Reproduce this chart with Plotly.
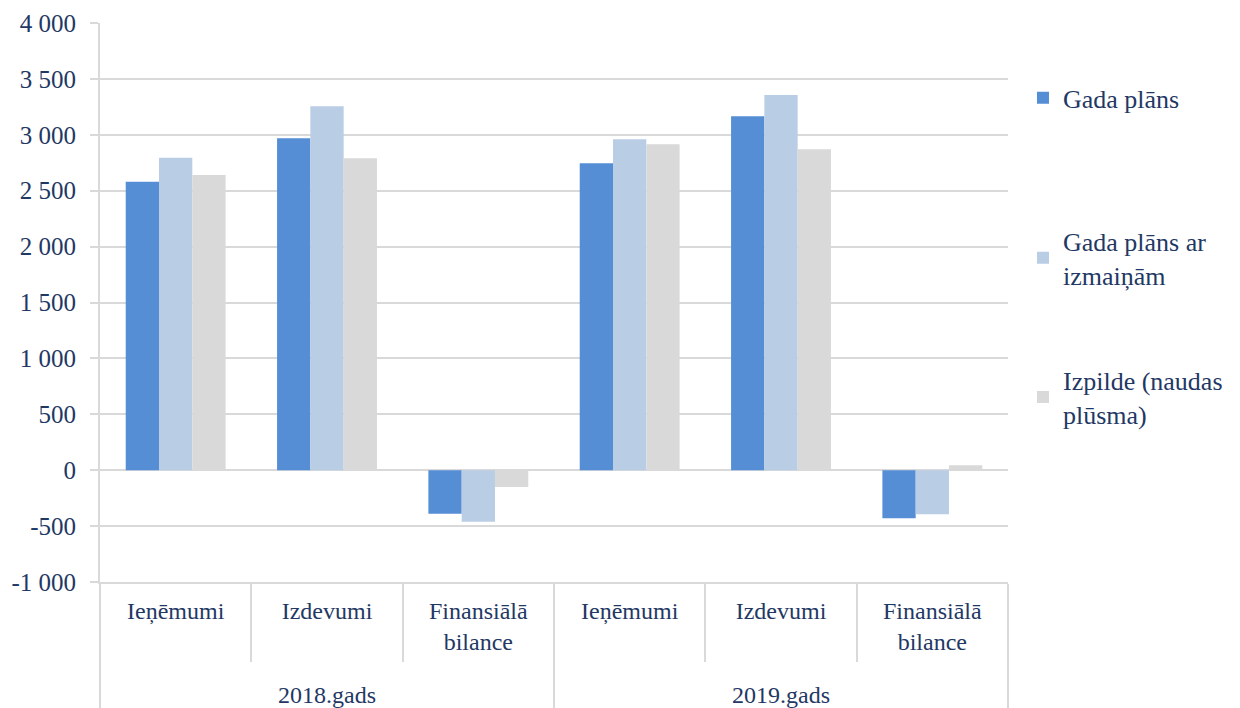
import plotly.graph_objects as go

years = ["2018.gads"] * 3 + ["2019.gads"] * 3
categories = ["Ieņēmumi", "Izdevumi", "Finansiālā<br>bilance<br> "] * 2

series_names = ["Gada plāns", "Gada plāns ar<br>izmaiņām", "Izpilde (naudas<br>plūsma)"]
gada_plans = [2580, 2970, -390, 2745, 3165, -430]
gada_plans_izm = [2795, 3255, -460, 2960, 3355, -395]
izpilde = [2640, 2790, -150, 2915, 2870, 45]

tick_vals = [-1000, -500, 0, 500, 1000, 1500, 2000, 2500, 3000, 3500, 4000]
tick_text = ["-1 000", "-500", "0", "500", "1 000", "1 500", "2 000", "2 500", "3 000", "3 500", "4 000"]

colors = ["#558ED5", "#B9CDE5", "#D9D9D9"]
legend_ids = ["legend", "legend2", "legend3"]
font_family = "serif"
text_color = "#1F3864"

fig = go.Figure()
for name, vals, col, lg in zip(series_names, [gada_plans, gada_plans_izm, izpilde], colors, legend_ids):
    fig.add_trace(go.Bar(
        x=[years, categories], y=vals, name=name, marker_color=col,
        marker_line_width=0, legend=lg, showlegend=True,
    ))

leg_common = dict(xanchor="left", yanchor="top", bgcolor="rgba(0,0,0,0)",
                  font=dict(family=font_family, size=26, color=text_color))
fig.update_layout(
    width=1240, height=708, showlegend=True,
    barmode="group", bargap=0.34, bargroupgap=0,
    plot_bgcolor="white", paper_bgcolor="white",
    margin=dict(l=92, r=240, t=15, b=134, autoexpand=False),
    font=dict(family=font_family, size=25, color=text_color),
    legend=dict(x=1.0165, y=0.908, **leg_common),
    legend2=dict(x=1.0165, y=0.652, **leg_common),
    legend3=dict(x=1.0165, y=0.403, **leg_common),
)
fig.update_yaxes(
    range=[-1000, 4000], tickvals=tick_vals, ticktext=tick_text,
    showgrid=True, gridcolor="#D9D9D9", gridwidth=2,
    zeroline=True, zerolinecolor="#D9D9D9", zerolinewidth=2,
    showline=True, linecolor="#D9D9D9", linewidth=2,
    ticks="outside", ticklen=8, tickcolor="#D9D9D9", tickwidth=2,
    ticklabelstandoff=9,
    tickfont=dict(family=font_family, size=25, color=text_color),
)
fig.update_xaxes(
    type="multicategory", showline=True, linecolor="#D9D9D9", linewidth=2,
    showdividers=True, dividercolor="#D9D9D9", dividerwidth=2,
    ticks="outside", tickson="boundaries", ticklen=78, tickcolor="#D9D9D9", tickwidth=2,
    ticklabelstandoff=6,
    tickfont=dict(family=font_family, size=24, color=text_color),
    automargin=False,
)

fig.write_html("out.html")
